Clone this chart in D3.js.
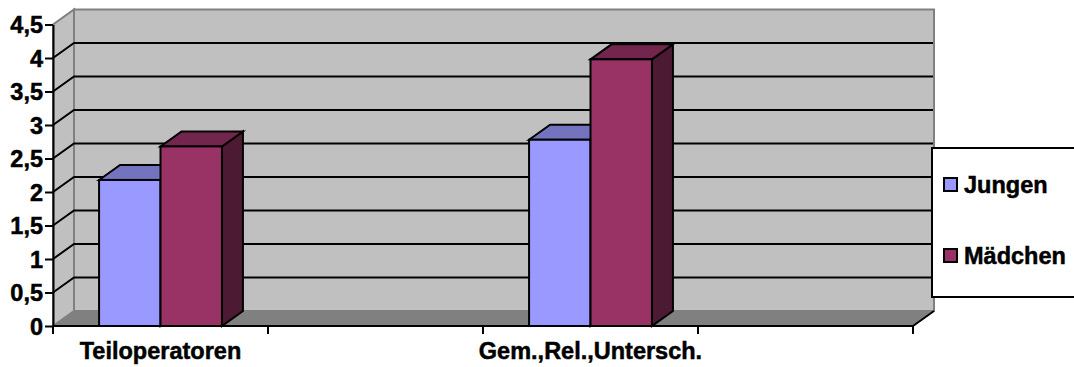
<!DOCTYPE html>
<html>
<head>
<meta charset="utf-8">
<script src="https://cdn.jsdelivr.net/npm/d3@7"></script>
<style>
  html, body { margin: 0; padding: 0; background: #fff; }
  svg { display: block; }
</style>
</head>
<body>
<svg id="chart" width="1074" height="367"></svg>
<script>
// Category slots on the horizontal axis (two slots carry no data)
const categories = ["Teiloperatoren", "", "Gem.,Rel.,Untersch.", ""];
const seriesNames = ["Jungen", "Mädchen"];
const jungen = [2.18, null, 2.78, null];
const maedchen = [2.68, null, 3.98, null];
const yTicks = [0, 0.5, 1, 1.5, 2, 2.5, 3, 3.5, 4, 4.5];

const colors = {
  Jungen:  { front: "#9999FF", top: "#7373BF", side: "#4D4D80" },
  "Mädchen": { front: "#993366", top: "#73264D", side: "#4D1A33" }
};

const FONT = "'Liberation Sans', Arial, Helvetica, sans-serif";
const FS = 23.5;

const svg = d3.select("#chart");
const de = d3.formatLocale({ decimal: ",", thousands: ".", grouping: [3], currency: ["", " €"] });
const fmt = v => de.format("~g")(v);

// Front plane of the 3-D box and the depth offset of the back wall
const plotL = 53, plotR = 913, plotB = 326, plotT = 24.5;
const dx = 21, dy = -15;

const y = d3.scaleLinear().domain([0, 4.5]).range([plotB, plotT]);
const x = d3.scaleBand().domain(d3.range(categories.length)).range([plotL, plotR]).paddingInner(0).paddingOuter(0);

const pts = a => a.map(p => p.join(",")).join(" ");
const styleText = sel => sel.style("font-family", FONT).style("font-weight", "700")
  .style("font-size", FS + "px").attr("fill", "#000")
  .attr("stroke", "#000").attr("stroke-width", 0.5);

// Back wall
svg.append("polygon")
  .attr("points", pts([[plotL + dx, plotT + dy], [plotR + dx, plotT + dy], [plotR + dx, plotB + dy], [plotL + dx, plotB + dy]]))
  .attr("fill", "#C0C0C0").attr("stroke", "#808080").attr("stroke-width", 2);

// Left side wall
svg.append("polygon")
  .attr("points", pts([[plotL, plotT], [plotL + dx, plotT + dy], [plotL + dx, plotB + dy], [plotL, plotB]]))
  .attr("fill", "#C0C0C0").attr("stroke", "#808080").attr("stroke-width", 2);

// Gridlines across the side wall and the back wall
const grid = svg.append("g").attr("fill", "none").attr("stroke", "#000").attr("stroke-width", 2);
yTicks.filter(v => v > 0 && v < 4.5).forEach(v => {
  grid.append("polyline")
    .attr("points", pts([[plotL, y(v)], [plotL + dx, y(v) + dy], [plotR + dx - 1, y(v) + dy]]));
});

// Floor
svg.append("polygon")
  .attr("points", pts([[plotL, plotB], [plotL + dx, plotB + dy], [plotR + dx, plotB + dy], [plotR, plotB]]))
  .attr("fill", "#808080").attr("stroke", "#808080").attr("stroke-width", 1);
svg.append("line")
  .attr("x1", plotR).attr("y1", plotB).attr("x2", plotR + dx).attr("y2", plotB + dy)
  .attr("stroke", "#000").attr("stroke-width", 2);

// Bars: front face, top face and right side face
const bw = x.bandwidth() / 3.5;
const bars = svg.append("g").attr("stroke", "#000").attr("stroke-width", 2).attr("stroke-linejoin", "miter");
categories.forEach((c, i) => {
  [jungen[i], maedchen[i]].forEach((v, s) => {
    if (v == null) return;
    const col = colors[seriesNames[s]];
    const x0 = x(i) + 0.75 * bw + s * bw, x1 = x0 + bw;
    const yt = y(v), yb = y(0);
    bars.append("polygon").attr("points", pts([[x1, yt], [x1 + dx, yt + dy], [x1 + dx, yb + dy], [x1, yb]])).attr("fill", col.side);
    bars.append("polygon").attr("points", pts([[x0, yt], [x0 + dx, yt + dy], [x1 + dx, yt + dy], [x1, yt]])).attr("fill", col.top);
    bars.append("rect").attr("x", x0).attr("y", yt).attr("width", bw).attr("height", yb - yt).attr("fill", col.front);
  });
});

// Value axis
const yAxis = svg.append("g").attr("transform", `translate(${plotL},0)`)
  .call(d3.axisLeft(y).tickValues(yTicks).tickFormat(fmt).tickSize(8).tickSizeOuter(0).tickPadding(2));
yAxis.select(".domain").attr("stroke", "#000").attr("stroke-width", 2);
yAxis.selectAll(".tick line").attr("stroke", "#000").attr("stroke-width", 2);
yAxis.selectAll(".tick text").call(styleText).attr("dy", "0.36em");

// Category axis along the front edge of the floor
const xAxis = svg.append("g");
xAxis.append("line").attr("x1", plotL).attr("x2", plotR).attr("y1", plotB).attr("y2", plotB)
  .attr("stroke", "#000").attr("stroke-width", 2);
const bounds = d3.range(categories.length).map(i => x(i)).concat([x(categories.length - 1) + x.bandwidth()]);
bounds.forEach(b => {
  xAxis.append("line").attr("x1", b).attr("x2", b).attr("y1", plotB).attr("y2", plotB + 8)
    .attr("stroke", "#000").attr("stroke-width", 2);
});
categories.forEach((c, i) => {
  if (!c) return;
  xAxis.append("text").attr("x", x(i) + x.bandwidth() / 2).attr("y", 359)
    .attr("text-anchor", "middle").call(styleText).text(c);
});

// Legend
const legend = svg.append("g");
legend.append("rect").attr("x", 932).attr("y", 148).attr("width", 160).attr("height", 149)
  .attr("fill", "#fff").attr("stroke", "#000").attr("stroke-width", 2);
seriesNames.forEach((n, k) => {
  const yy = 185 + k * 71;
  legend.append("rect").attr("x", 944).attr("y", yy - 7).attr("width", 13).attr("height", 13)
    .attr("fill", colors[n].front).attr("stroke", "#000").attr("stroke-width", 2);
  legend.append("text").attr("x", 964).attr("y", yy + 8).call(styleText).text(n);
});
</script>
</body>
</html>
